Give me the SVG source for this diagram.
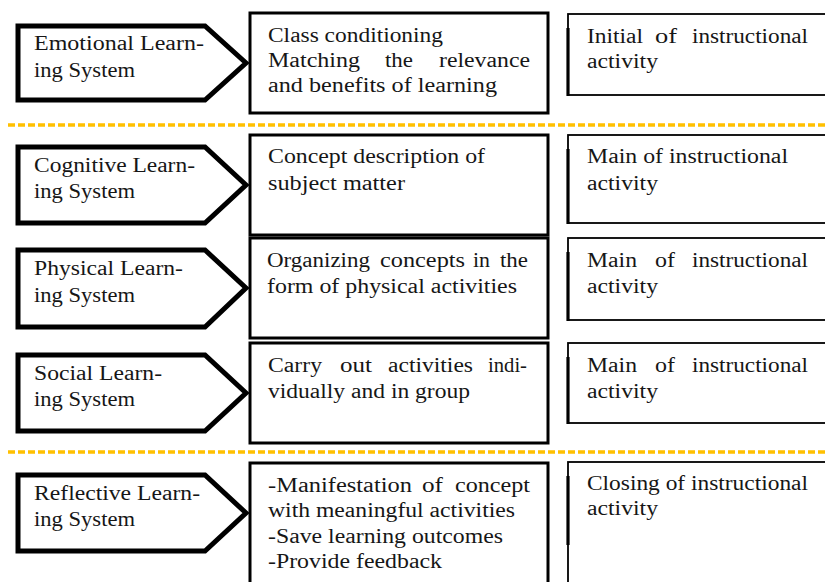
<svg xmlns="http://www.w3.org/2000/svg" width="825" height="582" viewBox="0 0 825 582">
<defs>
<filter id="blur" x="-5%" y="-200%" width="110%" height="500%"><feGaussianBlur stdDeviation="1.5"/></filter>
</defs>
<style>
text{font-family:"Liberation Serif","Times New Roman",serif;font-size:20px;fill:#161616}
.arrow{fill:#fff;stroke:#000;stroke-width:5;stroke-linejoin:miter}
.mid{fill:#fff;stroke:#000;stroke-width:3}
.right{fill:#fff;stroke:#000;stroke-width:1.8}
.rl{stroke:#000;stroke-width:3.2}
.dash{stroke:#FFC000;stroke-width:3.5;stroke-dasharray:7 3}
.shadow{stroke:#999;stroke-width:3;filter:url(#blur);opacity:0.7}
</style>
<rect width="825" height="582" fill="#fff"/>

<g id="separators">
<line class="shadow" x1="8" y1="129" x2="825" y2="129"/>
<line class="dash" x1="8" y1="125" x2="825" y2="125"/>
<line class="shadow" x1="8" y1="456" x2="825" y2="456"/>
<line class="dash" x1="8" y1="452" x2="825" y2="452"/>
</g>

<g id="emotional">
<path class="arrow" d="M18,26 H205 L246,63 L205,100 H18 Z"/>
<text x="34" y="50" textLength="170" lengthAdjust="spacingAndGlyphs">Emotional Learn-</text>
<text x="34" y="77" textLength="101" lengthAdjust="spacingAndGlyphs">ing System</text>
</g>
<g id="emotional-activity">
<rect class="mid" x="250" y="13" width="298" height="100"/>
<text x="268" y="42" textLength="175" lengthAdjust="spacingAndGlyphs">Class conditioning</text>
<text x="268" y="67" textLength="92" lengthAdjust="spacingAndGlyphs">Matching</text>
<text x="385" y="67" textLength="28" lengthAdjust="spacingAndGlyphs">the</text>
<text x="439" y="67" textLength="91" lengthAdjust="spacingAndGlyphs">relevance</text>
<text x="268" y="92" textLength="229" lengthAdjust="spacingAndGlyphs">and benefits of learning</text>
</g>
<g id="emotional-phase">
<rect class="right" x="568" y="14" width="262" height="81"/>
<line class="rl" x1="568" y1="28" x2="568" y2="96"/>
<text x="587" y="43" textLength="56" lengthAdjust="spacingAndGlyphs">Initial</text>
<text x="655" y="43" textLength="22" lengthAdjust="spacingAndGlyphs">of</text>
<text x="692" y="43" textLength="116" lengthAdjust="spacingAndGlyphs">instructional</text>
<text x="587" y="68" textLength="71" lengthAdjust="spacingAndGlyphs">activity</text>
</g>

<g id="cognitive">
<path class="arrow" d="M18,147 H205 L246,185 L205,223 H18 Z"/>
<text x="34" y="172" textLength="161" lengthAdjust="spacingAndGlyphs">Cognitive Learn-</text>
<text x="34" y="198" textLength="101" lengthAdjust="spacingAndGlyphs">ing System</text>
</g>
<g id="cognitive-activity">
<rect class="mid" x="250" y="135" width="298" height="100"/>
<text x="268" y="163" textLength="217" lengthAdjust="spacingAndGlyphs">Concept description of</text>
<text x="268" y="190" textLength="137" lengthAdjust="spacingAndGlyphs">subject matter</text>
</g>
<g id="cognitive-phase">
<rect class="right" x="568" y="135" width="262" height="88"/>
<line class="rl" x1="568" y1="149" x2="568" y2="224"/>
<text x="587" y="163" textLength="201" lengthAdjust="spacingAndGlyphs">Main of instructional</text>
<text x="587" y="190" textLength="71" lengthAdjust="spacingAndGlyphs">activity</text>
</g>

<g id="physical">
<path class="arrow" d="M18,250 H205 L246,288 L205,327 H18 Z"/>
<text x="34" y="275" textLength="149" lengthAdjust="spacingAndGlyphs">Physical Learn-</text>
<text x="34" y="302" textLength="101" lengthAdjust="spacingAndGlyphs">ing System</text>
</g>
<g id="physical-activity">
<rect class="mid" x="250" y="238" width="298" height="100"/>
<text x="267" y="267" textLength="103" lengthAdjust="spacingAndGlyphs">Organizing</text>
<text x="380" y="267" textLength="85" lengthAdjust="spacingAndGlyphs">concepts</text>
<text x="473" y="267" textLength="17" lengthAdjust="spacingAndGlyphs">in</text>
<text x="500" y="267" textLength="28" lengthAdjust="spacingAndGlyphs">the</text>
<text x="267" y="293" textLength="250" lengthAdjust="spacingAndGlyphs">form of physical activities</text>
</g>
<g id="physical-phase">
<rect class="right" x="568" y="238" width="262" height="82"/>
<line class="rl" x1="568" y1="252" x2="568" y2="321"/>
<text x="587" y="267" textLength="50" lengthAdjust="spacingAndGlyphs">Main</text>
<text x="655" y="267" textLength="20" lengthAdjust="spacingAndGlyphs">of</text>
<text x="692" y="267" textLength="116" lengthAdjust="spacingAndGlyphs">instructional</text>
<text x="587" y="293" textLength="71" lengthAdjust="spacingAndGlyphs">activity</text>
</g>

<g id="social">
<path class="arrow" d="M18,355 H205 L246,393 L205,431 H18 Z"/>
<text x="34" y="380" textLength="128" lengthAdjust="spacingAndGlyphs">Social Learn-</text>
<text x="34" y="406" textLength="101" lengthAdjust="spacingAndGlyphs">ing System</text>
</g>
<g id="social-activity">
<rect class="mid" x="250" y="343" width="298" height="100"/>
<text x="268" y="372" textLength="54" lengthAdjust="spacingAndGlyphs">Carry</text>
<text x="340" y="372" textLength="32" lengthAdjust="spacingAndGlyphs">out</text>
<text x="388" y="372" textLength="85" lengthAdjust="spacingAndGlyphs">activities</text>
<text x="488" y="372" textLength="39" lengthAdjust="spacingAndGlyphs">indi-</text>
<text x="268" y="398" textLength="202" lengthAdjust="spacingAndGlyphs">vidually and in group</text>
</g>
<g id="social-phase">
<rect class="right" x="568" y="343" width="262" height="80"/>
<line class="rl" x1="568" y1="357" x2="568" y2="424"/>
<text x="587" y="372" textLength="50" lengthAdjust="spacingAndGlyphs">Main</text>
<text x="655" y="372" textLength="20" lengthAdjust="spacingAndGlyphs">of</text>
<text x="692" y="372" textLength="116" lengthAdjust="spacingAndGlyphs">instructional</text>
<text x="587" y="398" textLength="71" lengthAdjust="spacingAndGlyphs">activity</text>
</g>

<g id="reflective">
<path class="arrow" d="M18,475 H205 L246,513 L205,551 H18 Z"/>
<text x="34" y="500" textLength="166" lengthAdjust="spacingAndGlyphs">Reflective Learn-</text>
<text x="34" y="526" textLength="101" lengthAdjust="spacingAndGlyphs">ing System</text>
</g>
<g id="reflective-activity">
<rect class="mid" x="250" y="463" width="298" height="130"/>
<text x="268" y="492" textLength="144" lengthAdjust="spacingAndGlyphs">-Manifestation</text>
<text x="422" y="492" textLength="21" lengthAdjust="spacingAndGlyphs">of</text>
<text x="455" y="492" textLength="75" lengthAdjust="spacingAndGlyphs">concept</text>
<text x="268" y="517" textLength="247" lengthAdjust="spacingAndGlyphs">with meaningful activities</text>
<text x="268" y="543" textLength="235" lengthAdjust="spacingAndGlyphs">-Save learning outcomes</text>
<text x="268" y="568" textLength="174" lengthAdjust="spacingAndGlyphs">-Provide feedback</text>
</g>
<g id="reflective-phase">
<rect class="right" x="568" y="462" width="262" height="130"/>
<line class="rl" x1="568" y1="476" x2="568" y2="545"/>
<text x="587" y="490" textLength="221" lengthAdjust="spacingAndGlyphs">Closing of instructional</text>
<text x="587" y="515" textLength="71" lengthAdjust="spacingAndGlyphs">activity</text>
</g>
</svg>
